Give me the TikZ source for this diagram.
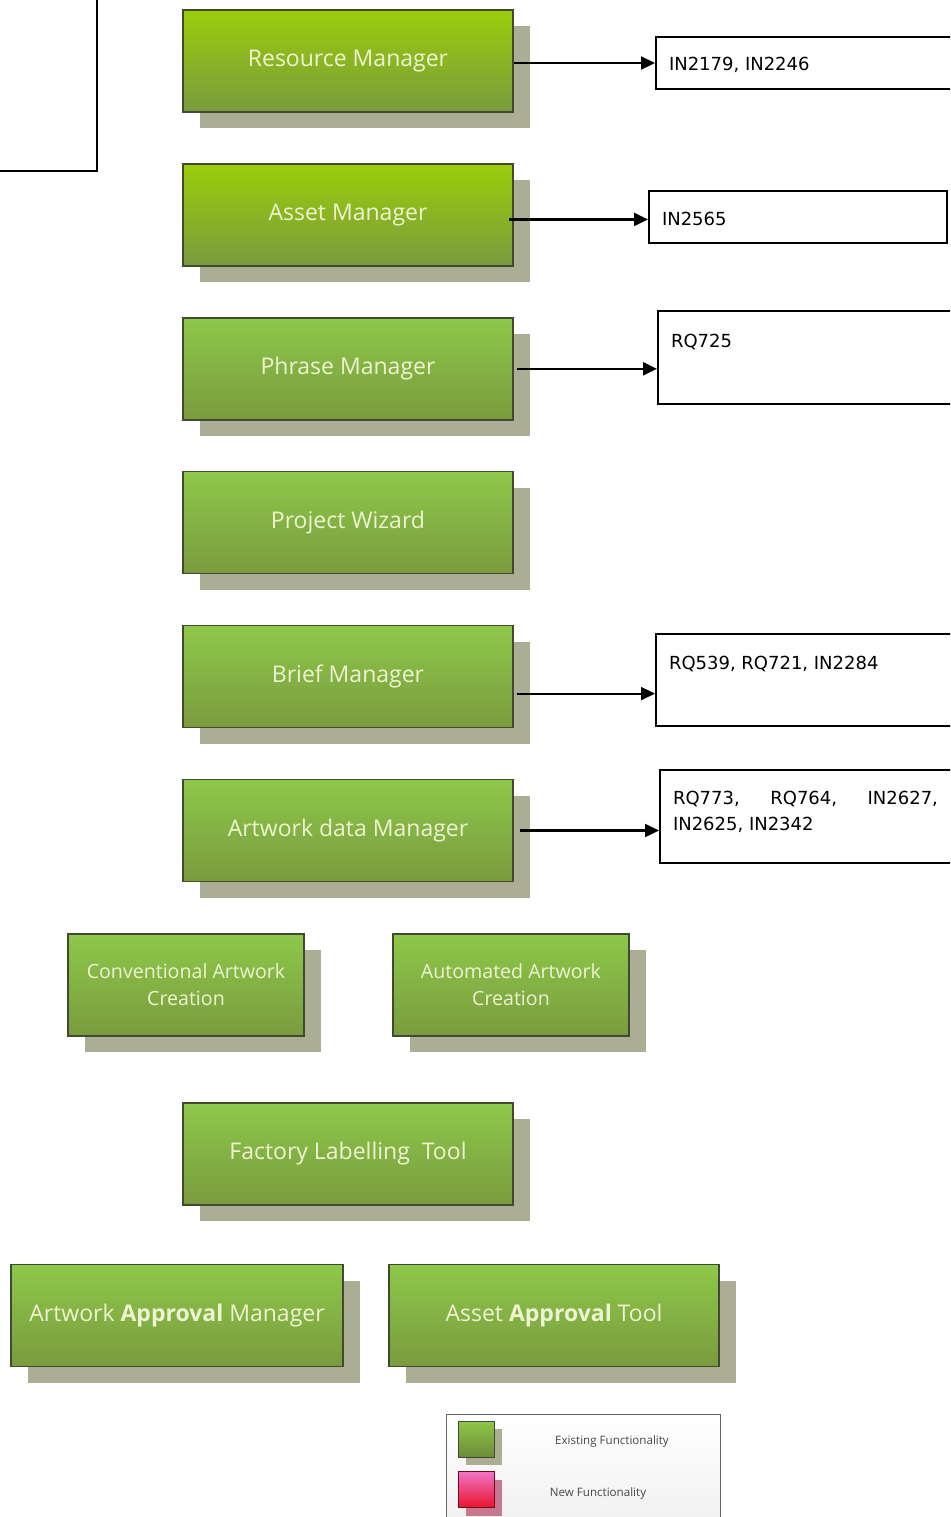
\documentclass[tikz,border=0pt]{standalone}
\usepackage{fontspec}
\setmainfont{Open Sans}
\newfontfamily\refsans{DejaVu Sans}
\usetikzlibrary{positioning, arrows.meta, shadows}

\definecolor{limetop}{HTML}{9ACD0A}
\definecolor{greentop}{HTML}{8DC84A}
\definecolor{greenbot}{HTML}{7A9B3E}
\definecolor{shadowgray}{HTML}{ABAE94}
\definecolor{boxedge}{HTML}{3F4A30}
\definecolor{paletext}{HTML}{EEF4D2}
\definecolor{pinktop}{HTML}{F274C8}
\definecolor{pinkbot}{HTML}{E8142C}
\definecolor{pinkshadow}{HTML}{C8788E}
\definecolor{legendtext}{HTML}{454545}

\tikzset{
  module/.style = {draw=boxedge, line width=0.7pt, top color=greentop, bottom color=greenbot,
    minimum width=165pt, minimum height=51pt, text=paletext, align=center,
    font=\fontsize{11.5}{14}\selectfont,
    drop shadow={fill=shadowgray, opacity=1, shadow xshift=8.5pt, shadow yshift=-8pt}},
  smallmodule/.style = {module, minimum width=118pt, font=\fontsize{9.8}{13.5}\selectfont},
  refbox/.style = {draw, line width=1pt, anchor=north west, inner xsep=6.5pt, inner ysep=0pt,
    text height=16.5pt, text depth=9.5pt, font=\refsans\fontsize{9}{13}\selectfont},
  link/.style = {-{Triangle[length=7pt, width=6.5pt]}, line width=1.1pt},
  swatch/.style = {draw=boxedge, line width=0.5pt, minimum size=18pt, inner sep=0pt,
    drop shadow={fill=shadowgray, opacity=1, shadow xshift=4pt, shadow yshift=-4pt}}
}

\begin{document}
\begin{tikzpicture}[x=0.5pt, y=-0.5pt, node distance=25.25pt]
\clip (0,0) rectangle (950,1517);

% note box cut off at the top left
\node[draw, line width=1.2pt, minimum width=60pt, minimum height=95pt, anchor=south east] (note) at (98,172) {};

% main column
\node[module, top color=limetop] (resource) at (348,61) {Resource Manager};
\node[module, top color=limetop, below=of resource] (asset) {Asset Manager};
\node[module, below=of asset] (phrase) {Phrase Manager};
\node[module, below=of phrase] (wizard) {Project Wizard};
\node[module, below=of wizard] (brief) {Brief Manager};
\node[module, below=of brief] (artdata) {Artwork data Manager};

\node[smallmodule] (conventional) at (186,985) {Conventional Artwork\\Creation};
\node[smallmodule] (automated) at (511,985) {Automated Artwork\\Creation};

\node[module] (factory) at (348,1154) {Factory Labelling~ Tool};

\node[module, minimum width=166pt] (artapproval) at (177,1315.5) {Artwork \textbf{Approval} Manager};
\node[module] (assetapproval) at (554,1315.5) {Asset \textbf{Approval} Tool};

% requirement boxes
\node[refbox] (r1) at (655,36) {\parbox[t]{150pt}{IN2179, IN2246}};
\node[refbox, text height=17pt, text depth=9pt] (r2) at (648,190) {\parbox[t]{136pt}{IN2565}};
\node[refbox, text height=18pt, text depth=28.5pt] (r3) at (657,310) {\parbox[t]{150pt}{RQ725}};
\node[refbox, text height=17.5pt, text depth=28.5pt] (r4) at (655,633) {\parbox[t]{150pt}{RQ539, RQ721, IN2284}};
\node[refbox, text height=17pt, text depth=29.5pt] (r5) at (659,769)
  {\parbox[t]{150pt}{\makebox[132.5pt][s]{RQ773, RQ764, IN2627,}\\IN2625, IN2342}};

\coordinate (s1) at ([yshift=-1pt]resource.east);
\coordinate (s2) at ([xshift=-2.5pt, yshift=-2.25pt]asset.east);
\coordinate (s3) at ([xshift=1.5pt]phrase.east);
\coordinate (s4) at ([xshift=1.5pt, yshift=-8.5pt]brief.east);
\coordinate (s5) at ([xshift=3pt]artdata.east);
\draw[link] (s1) -- (s1 -| r1.west);
\draw[link] (s2) -- (s2 -| r2.west);
\draw[link] (s3) -- (s3 -| r3.west);
\draw[link] (s4) -- (s4 -| r4.west);
\draw[link] (s5) -- (s5 -| r5.west);

% legend
\node[draw=gray!80!black, line width=0.6pt, top color=white, bottom color=gray!12, anchor=north west,
  minimum width=137pt, minimum height=60pt] (legend) at (446,1414) {};
\node[swatch, top color=greentop, bottom color=greenbot!90!black] (existing) at (476,1439) {};
\node[swatch, top color=pinktop, bottom color=pinkbot, draw=pinkbot!50!black,
  drop shadow={fill=pinkshadow, opacity=1, shadow xshift=4pt, shadow yshift=-4pt}] (new) at (476,1489.5) {};
\node[font=\fontsize{5.8}{7}\selectfont, text=legendtext] (existinglabel) at (612,1441) {Existing Functionality};
\node[font=\fontsize{5.8}{7}\selectfont, text=legendtext] (newlabel) at (598,1493) {New Functionality};
\end{tikzpicture}
\end{document}
